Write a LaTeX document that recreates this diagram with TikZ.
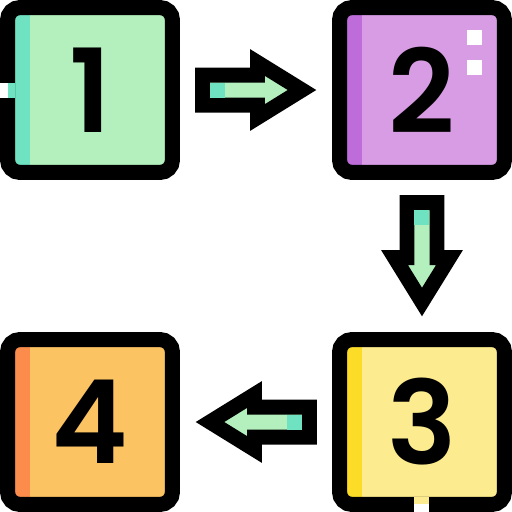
\documentclass[tikz,border=0pt]{standalone}
\usepackage{fontspec}
\setmainfont{Poppins}[BoldFont=Poppins SemiBold]
\usetikzlibrary{calc}
\definecolor{MintLight}{RGB}{179,240,189}
\definecolor{MintDark}{RGB}{110,226,193}
\definecolor{LilacLight}{RGB}{216,156,229}
\definecolor{LilacDark}{RGB}{190,108,218}
\definecolor{LemonLight}{RGB}{252,235,143}
\definecolor{LemonDark}{RGB}{253,220,40}
\definecolor{PeachLight}{RGB}{252,195,98}
\definecolor{PeachDark}{RGB}{251,140,75}

\tikzset{
  numbox/.style 2 args={draw=black, line width=0.3cm, rounded corners=0.25cm,
    minimum size=3.3cm, inner sep=0pt, outer sep=0pt, fill=#1,
    path picture={\fill[#2,sharp corners] (path picture bounding box.north west)
      rectangle ([xshift=0.45cm]path picture bounding box.south west);},
    font=\fontsize{66}{66}\selectfont\bfseries},
  blockarr/.pic={
    \draw[line width=0.3cm, fill=MintLight] (-53.5,-15) -- (1.5,-15) -- (1.5,-27.5)
      -- (46,0) -- (1.5,27.5) -- (1.5,15) -- (-53.5,15) -- cycle;
    \fill[MintDark] (-46,-7.5) rectangle (-31,7.5);
  }
}

\begin{document}
\begin{tikzpicture}[x=0.02cm, y=-0.02cm]
  \useasboundingbox (0,0) rectangle (512,512);
  \node[numbox={MintLight}{MintDark}] (one) at (90,90) {1};
  \node[numbox={LilacLight}{LilacDark}] (two) at (422,90) {2};
  \node[numbox={LemonLight}{LemonDark}] (three) at (422,422) {3};
  \node[numbox={PeachLight}{PeachDark}] (four) at (90,422) {4};
  % openings in the frames
  \fill[white] ($(one.west)+(-7.5,-7.5)$) rectangle ++(7.5,15);
  \fill[MintDark] ($(one.west)+(0,-7.5)$) rectangle ++(7.5,15);
  \fill[white] ($(three.south)+(-7.5,0)$) rectangle ++(15,7.5);
  \fill[LemonLight] ($(three.south)+(-7.5,-7.5)$) rectangle ++(15,7.5);
  % two small marks
  \fill[white] ($(two.north east)+(-37.5,22.5)$) rectangle ++(15,15);
  \fill[white] ($(two.north east)+(-37.5,52.5)$) rectangle ++(15,15);
  % arrows
  \pic at ($(one.east)!0.5!(two.west)$) {blockarr};
  \pic[rotate=-90] at ($(two.south)!0.5!(three.north)$) {blockarr};
  \pic[rotate=180] at ($(three.west)!0.5!(four.east)$) {blockarr};
\end{tikzpicture}
\end{document}
